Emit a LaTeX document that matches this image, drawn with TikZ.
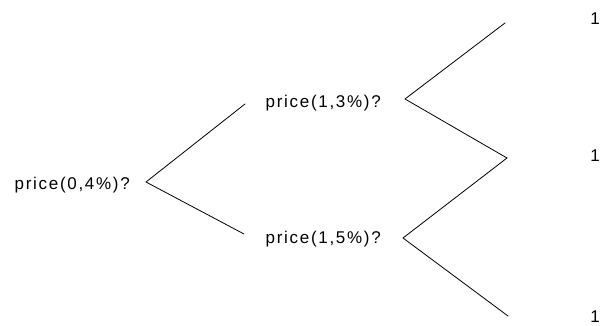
\documentclass[tikz,border=0pt]{standalone}
\usepackage{fontspec}
\setmainfont{Liberation Sans}[LetterSpace=10]
\begin{document}
\begin{tikzpicture}[x=1pt,y=-1pt,line cap=round,line join=round]
  \tikzset{price/.style={anchor=east,inner sep=0pt,font=\fontsize{17}{20}\selectfont},
           leaf/.style={anchor=east,inner sep=0pt,font=\fontsize{17}{20}\selectfont},
           branch/.style={line width=0.8pt}}
  \useasboundingbox (0,0) rectangle (608,326);
  \coordinate (v0) at (146,182);
  \coordinate (v13) at (405,99);
  \coordinate (v15) at (403,238);
  \coordinate (a13) at (245,104);
  \coordinate (a15) at (244,234);
  \coordinate (l1) at (505,23);
  \coordinate (l2) at (507,158);
  \coordinate (l3) at (508,316);
  \node[price] (p0) at (130,185) {price(0,4\%)?};
  \node[price] (p13) at (381,103) {price(1,3\%)?};
  \node[price] (p15) at (381,239.5) {price(1,5\%)?};
  \node[leaf] (n1) at (600,18.5) {1};
  \node[leaf] (n2) at (600,156) {1};
  \node[leaf] (n3) at (600,316.5) {1};
  \draw[branch] (a13) -- (v0) -- (a15);
  \draw[branch] (l1) -- (v13) -- (l2);
  \draw[branch] (l2) -- (v15) -- (l3);
\end{tikzpicture}
\end{document}
